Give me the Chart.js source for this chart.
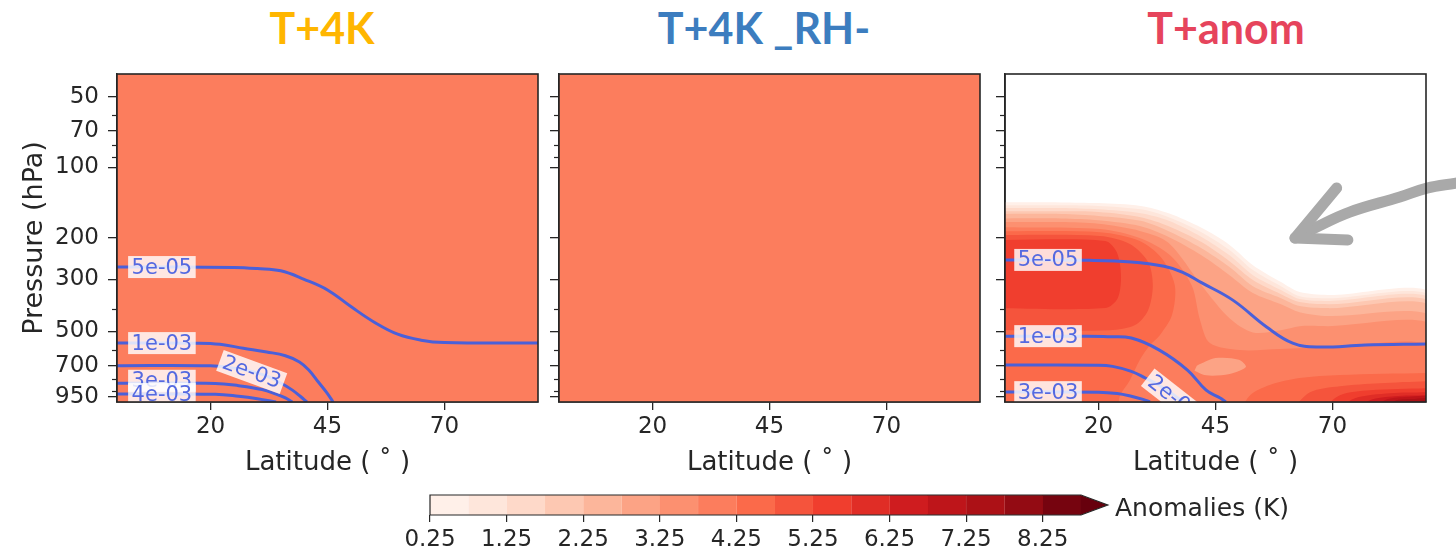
<!DOCTYPE html>
<html>
<head>
<meta charset="utf-8">
<title>Anomalies</title>
<script src="https://cdn.jsdelivr.net/npm/chart.js@4.4.1/dist/chart.umd.min.js"></script>
<style>
  html, body { margin: 0; padding: 0; background: #fff; }
  body { position: relative; width: 1456px; height: 556px; overflow: hidden; }
  .ttl { position: absolute; top: 6px; font: 700 43px/1 Lato, "Open Sans", sans-serif; transform: translateX(-50%); white-space: nowrap; }
  canvas { position: absolute; }
  #cblabel { position: absolute; left: 1115px; top: 493px; font: 25px/30px "DejaVu Sans", sans-serif; color: #262626; white-space: nowrap; }
</style>
</head>
<body>
<div class="ttl" style="left:322px;color:#ffb600">T+4K</div>
<div class="ttl" style="left:764px;color:#3c7dbf">T+4K _RH-</div>
<div class="ttl" style="left:1226px;color:#e6445c">T+anom</div>
<canvas id="p1" width="560" height="420" style="left:0;top:60px"></canvas>
<canvas id="p2" width="455" height="420" style="left:545px;top:60px"></canvas>
<canvas id="p3" width="466" height="420" style="left:990px;top:60px"></canvas>
<canvas id="cb" width="720" height="76" style="left:400px;top:480px"></canvas>
<div id="cblabel">Anomalies (K)</div>
<script>
/* three lat/pressure panels of temperature anomaly + shared colorbar */
const AX = '#262626';
const LINE_BLUE = '#4a60d9';
const LABEL_BLUE = '#5469e0';
const ARROW_GREY = '#a9a9a9';

// axes
const LAT_TICKS = [20, 45, 70];
const P_TICKS = [50, 70, 100, 200, 300, 500, 700, 950];
const P_MINOR = [60, 80, 90, 400, 600, 800, 900];

// colour levels (K) and Reds palette, one colour per band
const LEVELS = [0.25, 0.75, 1.25, 1.75, 2.25, 2.75, 3.25, 3.75, 4.25, 4.75, 5.25, 5.75, 6.25, 6.75, 7.25, 7.75, 8.25, 8.75];
const REDS = ['#fff0e9', '#fee6db', '#fed9c9', '#fdc8b2', '#fcb69b', '#fca385', '#fc9070', '#fc7d5d', '#fb6a4a',
              '#f5543c', '#f03e2e', '#e02d26', '#cf1c1f', '#be151a', '#ac1116', '#930b13', '#76040f'];
const OVER = '#67000d';
const EXTEND = 0.35;
const CB_TICKS = [0.25, 1.25, 2.25, 3.25, 4.25, 5.25, 6.25, 7.25, 8.25];

// T+4K panels: uniform +4 K everywhere
const UNIFORM_K = 4.0;
const WHOLE_DOMAIN = [[-5, 30], [95, 30], [95, 1100], [-5, 1100]];

// contour lines [lat, hPa] — panel 1 (T+4K)
const C1_5E05 = [[0, 266], [25, 267], [30, 270], [35, 276], [40, 300], [45, 333], [50, 392], [55, 457], [60, 514], [65, 545], [70, 558], [90, 561]];
const C1_1E03 = [[0, 561], [17, 562], [22, 568], [27, 590], [32, 612], [36, 635], [39, 675], [41, 730], [43, 820], [44.8, 910], [46.2, 1000]];
const C1_2E03 = [[0, 700], [20, 701], [24, 712], [28, 735], [32, 775], [35, 830], [37.5, 890], [39.3, 950], [40.6, 1000]];
const C1_3E03 = [[0, 831], [21, 833], [26, 852], [31, 885], [34, 925], [36, 960], [37.5, 1000]];
const C1_4E03 = [[0, 925], [21, 927], [26, 945], [30, 968], [34, 1000]];
const LABELS_1 = [
  { t: '5e-05', lat: 9.6, p: 266, rot: 0 },
  { t: '1e-03', lat: 9.6, p: 561, rot: 0 },
  { t: '2e-03', lat: 28.8, p: 745, rot: 20 },
  { t: '3e-03', lat: 9.6, p: 812, rot: 0 },
  { t: '4e-03', lat: 9.6, p: 925, rot: 0 },
];

// contour lines — panel 3 (T+anom)
const C3_5E05 = [[0, 248], [18, 249], [27, 253], [34, 264], [38, 280], [42, 310], [48.7, 368], [56, 480], [61.5, 561], [66.7, 583], [77, 572], [90, 566]];
const C3_1E03 = [[0, 524], [17, 525], [22, 527], [27, 534], [33, 601], [39, 731], [43, 890], [46, 962], [47.2, 1000]];
const C3_2E03 = [[0, 696], [20, 697], [23, 705], [27, 740], [30, 790], [33, 850], [36, 930], [38, 1000]];
const C3_3E03 = [[0, 907], [20, 908], [24, 920], [27, 945], [29.5, 975], [31, 1000]];
const LABELS_3 = [
  { t: '5e-05', lat: 9.2, p: 248, rot: 0 },
  { t: '1e-03', lat: 9.2, p: 524, rot: 0 },
  { t: '3e-03', lat: 9.2, p: 908, rot: 0 },
  { t: '2e-03', lat: 36.2, p: 962, rot: 38 },
];

// anomaly bands of panel 3, drawn lightest first (k = band index in LEVELS)
const F3 = [
  { k: 0, pts: [[-2, 141], [12, 141], [20, 142], [29, 146], [35, 157], [42, 181], [48, 214], [53, 261], [59, 308], [63, 340], [69, 350], [92, 350], [92, 1100], [-2, 1100]] },
  { k: 1, pts: [[-2, 145], [12, 145], [20, 146], [29, 151], [35, 163], [42, 189], [48, 225], [53, 274], [59, 321], [63, 354], [69, 361], [92, 361], [92, 1100], [-2, 1100]] },
  { k: 2, pts: [[-2, 149], [12, 149], [20, 151], [29, 157], [35, 169], [42, 198], [48, 237], [53, 288], [59, 333], [63, 364], [69, 371], [92, 371], [92, 1100], [-2, 1100]] },
  { k: 3, pts: [[-2, 154], [12, 154], [20, 155], [29, 163], [35, 178], [42, 208], [48, 251], [53, 302], [59, 347], [63, 375], [69, 383], [92, 383], [92, 1100], [-2, 1100]] },
  { k: 4, pts: [[-2, 158], [12, 158], [20, 161], [29, 169], [35, 187], [42, 221], [48, 266], [53, 321], [59, 361], [63, 390], [69, 398], [92, 398], [92, 1100], [-2, 1100]] },
  { k: 5, pts: [[-2, 165], [12, 165], [20, 168], [29, 178], [35, 198], [42, 237], [48, 288], [53, 343], [59, 383], [63, 414], [69, 430], [92, 439], [92, 1100], [-2, 1100]] },
  { k: 6, pts: [[-2, 171], [12, 171], [20, 174], [29, 187], [35, 210], [42, 318], [48, 440], [53, 505], [59, 494], [63, 475], [69, 475], [92, 475], [92, 1100], [-2, 1100]] },
  { k: 7, pts: [[-2, 180], [20.3, 183], [28.8, 200], [35.3, 237], [39.9, 318], [41.7, 448], [43.8, 561], [50.2, 601], [58.8, 595], [69.4, 583], [92, 583], [92, 1100], [-2, 1100]] },
  { k: 5, pts: [[41, 700], [45, 650], [50, 660], [51.5, 710], [48, 760], [43, 770], [40.5, 735]] },
  { k: 8, pts: [[-2, 187], [20.3, 189], [28.8, 206], [33.5, 244], [36.3, 318], [35.7, 426], [33.1, 519], [31, 572], [28.8, 663], [26.7, 807], [24.6, 935], [23.5, 1100], [-2, 1100]] },
  { k: 8, pts: [[50.2, 1100], [52.4, 935], [56.6, 847], [63, 791], [71.6, 768], [90, 753], [92, 753], [92, 1100]] },
  { k: 9, pts: [[-2, 194], [20.3, 196], [26.7, 212], [30.6, 253], [31.6, 318], [30.6, 406], [27.8, 470], [22.4, 494], [-2, 494]] },
  { k: 9, pts: [[60.9, 1100], [65.2, 908], [71.6, 856], [80.1, 831], [90, 815], [92, 815], [92, 1100]] },
  { k: 10, pts: [[-2, 204], [21.4, 206], [23.9, 230], [24.8, 288], [24.1, 361], [21.4, 398], [-2, 398]] },
  { k: 10, pts: [[67.3, 1100], [71.6, 935], [78, 890], [90, 873], [92, 873], [92, 1100]] },
  { k: 11, pts: [[70.5, 1100], [74.8, 963], [82.3, 917], [90, 908], [92, 908], [92, 1100]] },
  { k: 12, pts: [[74.8, 1100], [78, 982], [83.3, 944], [90, 935], [92, 935], [92, 1100]] },
  { k: 13, pts: [[78, 1100], [81.2, 982], [85.5, 953], [92, 953], [92, 1100]] },
  { k: 14, pts: [[81.2, 1100], [83.3, 991], [87, 972], [92, 972], [92, 1100]] },
  { k: 15, pts: [[83.3, 1100], [85.5, 1000], [88.7, 991], [92, 991], [92, 1100]] },
];

// grey hand-drawn arrow on panel 3 (tail outside the frame)
const ARROW_SHAFT = [[96.4, 116.7], [90.2, 122.5], [84.4, 133.8], [73.7, 155.1], [66.2, 181.4], [62, 200]];
const ARROW_HEAD = [[70.9, 122.5], [62, 200], [73.3, 204]];

Chart.defaults.font.family = '"DejaVu Sans", sans-serif';
Chart.defaults.color = AX;

const xy = arr => arr.map(([x, y]) => ({ x, y }));
function levelColor(v) {
  for (let i = LEVELS.length - 2; i >= 0; i--) if (v >= LEVELS[i]) return REDS[i];
  return '#ffffff';
}
function area(pairs, color) {
  return { data: xy(pairs), fill: 'shape', backgroundColor: color, borderColor: 'rgba(0,0,0,0)',
           borderWidth: 0, pointRadius: 0, tension: 0.3 };
}
function contour(pairs) {
  return { data: xy(pairs), fill: false, borderColor: LINE_BLUE, borderWidth: 3, pointRadius: 0, tension: 0.4 };
}

/* frame + minor log ticks */
const frame = {
  id: 'frame',
  afterDraw(chart) {
    const { ctx, chartArea: a, scales: { y } } = chart;
    ctx.save();
    ctx.strokeStyle = AX;
    ctx.lineWidth = 1.2;
    P_MINOR.forEach(v => {
      const py = Math.round(y.getPixelForValue(v)) + 0.5;
      ctx.beginPath(); ctx.moveTo(a.left - 5, py); ctx.lineTo(a.left, py); ctx.stroke();
    });
    ctx.lineWidth = 1.6;
    ctx.strokeRect(a.left, a.top, a.right - a.left, a.bottom - a.top);
    ctx.restore();
  },
};

/* inline contour labels, clipped to the axes like matplotlib clabel */
function contourLabels(items) {
  return {
    id: 'clabels',
    afterDatasetsDraw(chart) {
      const { ctx, chartArea: a, scales: { x, y } } = chart;
      ctx.save();
      ctx.beginPath(); ctx.rect(a.left, a.top, a.right - a.left, a.bottom - a.top); ctx.clip();
      ctx.font = '21px "DejaVu Sans"';
      ctx.textAlign = 'center';
      ctx.textBaseline = 'middle';
      items.forEach(it => {
        const w = ctx.measureText(it.t).width + 7, h = 22;
        ctx.save();
        ctx.translate(x.getPixelForValue(it.lat), y.getPixelForValue(it.p));
        ctx.rotate(it.rot * Math.PI / 180);
        ctx.fillStyle = 'rgba(255,255,255,0.82)';
        ctx.fillRect(-w / 2, -h / 2, w, h);
        ctx.fillStyle = LABEL_BLUE;
        ctx.fillText(it.t, 0, 1);
        ctx.restore();
      });
      ctx.restore();
    },
  };
}

function panel(id, { fills, lines = [], labels = [], extra = [], first = false, yWidth, padRight }) {
  const stack = [...fills, ...lines, ...extra];          // bottom -> top
  stack.forEach((d, i) => { d.order = stack.length - i; });
  return new Chart(document.getElementById(id), {
    type: 'line',
    data: { datasets: stack },
    options: {
      responsive: false, animation: false, events: [],
      layout: { padding: { top: 14, right: padRight, left: 0, bottom: 0 } },
      plugins: { legend: { display: false }, tooltip: { enabled: false } },
      scales: {
        x: {
          type: 'linear', min: 0, max: 90,
          afterBuildTicks: s => { s.ticks = LAT_TICKS.map(v => ({ value: v })); },
          afterFit: s => { s.height = 78; s.paddingLeft = 0; s.paddingRight = 0; },
          ticks: { autoSkip: false, maxRotation: 0, padding: 3, font: { size: 23 }, color: AX, callback: v => v },
          grid: { drawOnChartArea: false, tickLength: 8, color: AX, lineWidth: 1.3 },
          border: { display: true, color: AX, width: 1.5 },
          title: { display: true, text: 'Latitude ( ˚ )', font: { size: 26 }, color: AX, padding: { top: 0, bottom: 1 } },
        },
        y: {
          type: 'logarithmic', reverse: true, min: 40, max: 1000,
          afterBuildTicks: s => { s.ticks = P_TICKS.map(v => ({ value: v })); },
          afterFit: s => { s.width = yWidth; s.paddingTop = 0; s.paddingBottom = 0; },
          ticks: { display: first, autoSkip: false, padding: 9, font: { size: 23 }, color: AX, callback: v => String(v) },
          grid: { drawOnChartArea: false, tickLength: 9, color: AX, lineWidth: 1.3 },
          border: { display: true, color: AX, width: 1.5 },
          title: { display: first, text: 'Pressure (hPa)', font: { size: 27 }, color: AX, padding: { top: 19, bottom: 0 } },
        },
      },
    },
    plugins: [frame, contourLabels(labels)],
  });
}

// T+4K
panel('p1', {
  fills: [area(WHOLE_DOMAIN, levelColor(UNIFORM_K))],
  lines: [C1_5E05, C1_1E03, C1_2E03, C1_3E03, C1_4E03].map(contour),
  labels: LABELS_1, first: true, yWidth: 117, padRight: 22,
});

// T+4K _RH-
panel('p2', {
  fills: [area(WHOLE_DOMAIN, levelColor(UNIFORM_K))],
  yWidth: 14, padRight: 20,
});

// T+anom
panel('p3', {
  fills: F3.map(l => area(l.pts, REDS[l.k])),
  lines: [C3_5E05, C3_1E03, C3_2E03, C3_3E03].map(contour),
  labels: LABELS_3,
  extra: [
    { data: xy(ARROW_SHAFT), fill: false, borderColor: ARROW_GREY, borderWidth: 11, borderCapStyle: 'round',
      borderJoinStyle: 'round', pointRadius: 0, tension: 0.4, clip: false },
    { data: xy(ARROW_HEAD), fill: false, borderColor: ARROW_GREY, borderWidth: 11, borderCapStyle: 'round',
      borderJoinStyle: 'round', pointRadius: 0, tension: 0, clip: false },
  ],
  yWidth: 15, padRight: 30,
});

/* colorbar: one floating bar per band + extend-max triangle */
const cbOutline = {
  id: 'cbOutline',
  afterDatasetsDraw(chart) {
    const { ctx, chartArea: a, scales: { x } } = chart;
    const top = LEVELS[LEVELS.length - 1];
    const x0 = x.getPixelForValue(LEVELS[0]), x1 = x.getPixelForValue(top), tip = x.getPixelForValue(top + EXTEND);
    const mid = (a.top + a.bottom) / 2;
    ctx.save();
    ctx.beginPath(); ctx.moveTo(x1 - 0.5, a.top); ctx.lineTo(tip, mid); ctx.lineTo(x1 - 0.5, a.bottom); ctx.closePath();
    ctx.fillStyle = OVER; ctx.fill();
    ctx.beginPath();
    ctx.moveTo(x0, a.top); ctx.lineTo(x1, a.top); ctx.lineTo(tip, mid); ctx.lineTo(x1, a.bottom); ctx.lineTo(x0, a.bottom);
    ctx.closePath();
    ctx.strokeStyle = AX; ctx.lineWidth = 1.2; ctx.stroke();
    ctx.restore();
  },
};

new Chart(document.getElementById('cb'), {
  type: 'bar',
  data: {
    labels: ['K'],
    datasets: REDS.map((c, i) => ({
      data: [[LEVELS[i], LEVELS[i + 1]]], backgroundColor: c, borderColor: c, borderWidth: 0.5,
      grouped: false, barPercentage: 1, categoryPercentage: 1,
    })),
  },
  options: {
    indexAxis: 'y', responsive: false, animation: false, events: [],
    layout: { padding: { left: 30, right: 39, top: 15, bottom: 0 } },
    plugins: { legend: { display: false }, tooltip: { enabled: false } },
    scales: {
      y: { display: false },
      x: {
        type: 'linear', min: LEVELS[0], max: LEVELS[LEVELS.length - 1],
        afterBuildTicks: s => { s.ticks = CB_TICKS.map(v => ({ value: v })); },
        afterFit: s => { s.height = 41; s.paddingLeft = 0; s.paddingRight = 0; },
        ticks: { autoSkip: false, maxRotation: 0, padding: 4, font: { size: 23 }, color: AX, callback: v => v.toFixed(2) },
        grid: { drawOnChartArea: false, tickLength: 7, color: AX, lineWidth: 1.2 },
        border: { display: false },
      },
    },
  },
  plugins: [cbOutline],
});
</script>
</body>
</html>
